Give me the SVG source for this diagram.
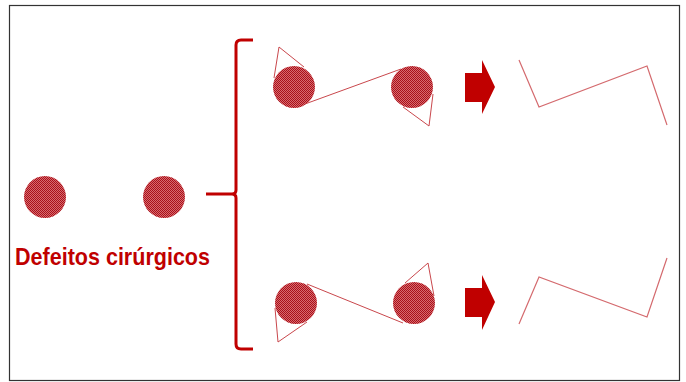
<svg xmlns="http://www.w3.org/2000/svg" width="686" height="382" viewBox="0 0 686 382">
<defs>
<pattern id="hatch" width="2" height="2" patternUnits="userSpaceOnUse">
<rect width="2" height="2" fill="#d86a6e"/>
<rect width="1" height="1" fill="#a8101a"/>
<rect x="1" y="1" width="1" height="1" fill="#a8101a"/>
</pattern>
</defs>
<style>
.dot{fill:url(#hatch)}
.thin{fill:none;stroke:#c9474c;stroke-width:1}
.zig{fill:none;stroke:#d46a6e;stroke-width:1.2}
.brk{fill:none;stroke:#c00000;stroke-width:3;stroke-linejoin:round}
.arr{fill:#c00000}
.lbl{font-family:"Liberation Sans",Arial,sans-serif;font-weight:bold;font-size:24px;fill:#c00000}
</style>
<rect x="0" y="0" width="686" height="382" fill="#ffffff"/>
<rect x="9.5" y="5.5" width="670" height="375" fill="none" stroke="#333333" stroke-width="1.2"/>
<g id="left-pair">
<circle class="dot" cx="45" cy="197" r="21"/>
<circle class="dot" cx="164" cy="197" r="21"/>
<text class="lbl" x="15" y="265" textLength="195" lengthAdjust="spacingAndGlyphs">Defeitos cirúrgicos</text>
</g>
<g id="bracket">
<path class="brk" d="M253,40 L241,40 Q236,40 236,45 L236,190 Q236,194 232,194 L206,194 M232,194 Q236,194 236,198 L236,344 Q236,349 241,349 L253,349"/>
</g>
<g id="top-pair">
<polyline class="thin" points="274,78 279,47 304,67"/>
<circle class="dot" cx="294" cy="87" r="21"/>
<circle class="dot" cx="412" cy="87" r="21"/>
<polyline class="thin" points="403,107 429,126 433,94"/>
</g>
<g id="bottom-pair">
<polyline class="thin" points="275,308 278,342 307,322"/>
<circle class="dot" cx="296" cy="303" r="21"/>
<circle class="dot" cx="414" cy="303" r="21"/>
<polyline class="thin" points="405,283 428,263 434,296"/>
</g>
<g id="connectors">
<line class="thin" x1="305" y1="104" x2="401" y2="69"/>
<line class="thin" x1="307" y1="284" x2="403" y2="323"/>
</g>
<g id="arrow-top">
<polygon class="arr" points="465,73 482,73 482,60 495,87 482,114 482,102 465,102"/>
</g>
<g id="arrow-bottom">
<polygon class="arr" points="465,288 482,288 482,275 495,302 482,330 482,317 465,317"/>
</g>
<g id="zig-top">
<polyline class="zig" points="519,60 539,107 647,66 667,125"/>
</g>
<g id="zig-bottom">
<polyline class="zig" points="519,324 539,277 647,317 667,258"/>
</g>
</svg>
